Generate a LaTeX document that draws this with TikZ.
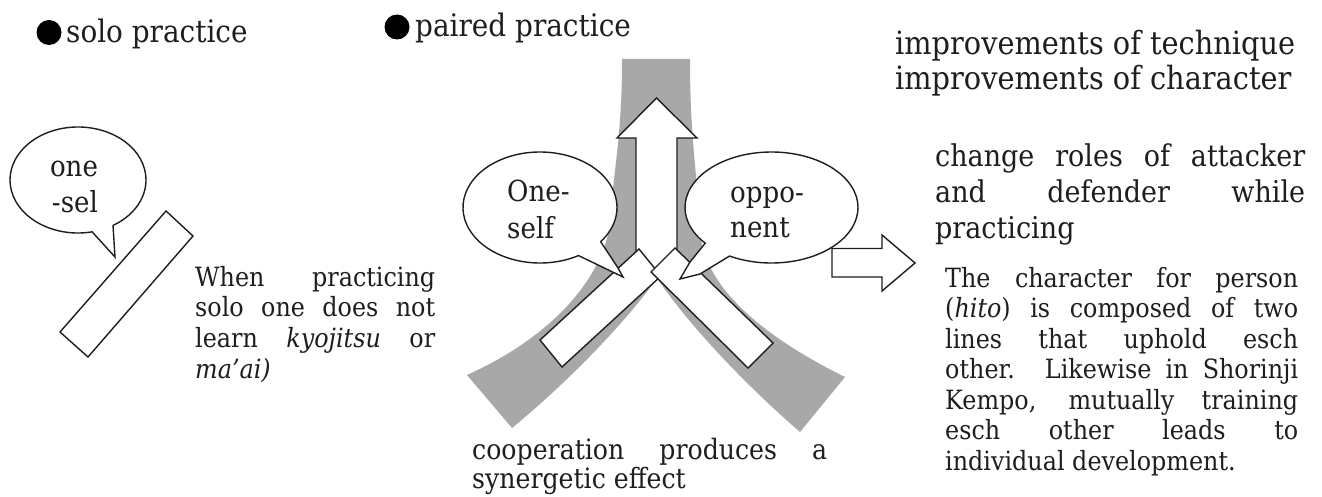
\documentclass[tikz,border=0pt]{standalone}
\usepackage{fontspec}
\setmainfont{DejaVu Serif}[FakeStretch=0.9]
\definecolor{bandgray}{RGB}{168,168,168}
\definecolor{inkc}{RGB}{30,30,30}
\newcommand\fHead{\fontsize{31}{34}\selectfont}
\newcommand\fImp{\fontsize{32}{34}\selectfont}
\newcommand\fMid{\fontsize{30}{34}\selectfont}
\newcommand\fCoop{\fontsize{28}{30}\selectfont}
\newcommand\fBub{\fontsize{29}{34}\selectfont}
\newcommand\fBody{\fontsize{26.5}{30}\selectfont}
\newcommand\jl[2]{\makebox[#1][s]{#2}}
\begin{document}
\begin{tikzpicture}[x=1pt,y=1pt,yscale=-1,
  outline/.style={draw=inkc, line width=1.4pt, fill=white, line join=miter},
  txt/.style={anchor=base west, inner sep=0pt, text=inkc},
  ctxt/.style={anchor=base, inner sep=0pt, text=inkc},
  bullet/.style={circle, fill=black, inner sep=0pt, minimum size=25pt}]
\useasboundingbox (0,0) rectangle (1322,497);
\fill[white] (0,0) rectangle (1322,497);

% ---------- gray band
\fill[bandgray] (622,59) -- (690,59)
  .. controls (690,140) and (697,170) .. (700,230)
  .. controls (703,290) and (770,340) .. (845,377) -- (800,432)
  .. controls (740,380) and (685,320) .. (657,278)
  .. controls (635,310) and (580,372) .. (512,428) -- (467,375)
  .. controls (545,340) and (600,285) .. (610,225)
  .. controls (613,170) and (622,140) .. (622,59) -- cycle;

% ---------- up arrow
\draw[outline] (636,272) -- (636,138) -- (617,138) -- (656.5,98) -- (697,138) -- (677,138) -- (677,272) -- cycle;

% ---------- two bars
\draw[outline] (540,340) -- (562,367) -- (661,276) -- (639,249) -- cycle;
\draw[outline] (651,272) -- (675,248) -- (773,343) -- (748,368) -- cycle;

% ---------- bubbles (middle)
\draw[outline] (540,207.5) ++(60:77 and 55.5) arc[start angle=60, end angle=398, x radius=77pt, y radius=55.5pt] -- (618,268) -- (623,277) -- cycle;
\draw[outline] (771.5,207.5) ++(140:86.5 and 55.5) arc[start angle=140, end angle=479, x radius=86.5pt, y radius=55.5pt] -- (700,274) -- (680,279) -- (690,262) -- cycle;

% ---------- right arrow
\draw[outline] (832,248.5) -- (882,248.5) -- (882,235) -- (915,263) -- (882,291) -- (882,277) -- (832,277) -- cycle;

% ---------- solo part
\draw[outline] (166,211) -- (193,236) -- (88,357) -- (60,332) -- cycle;
\draw[outline] (78,180) ++(78:68 and 53) arc[start angle=78, end angle=419, x radius=68pt, y radius=53pt] -- (115,257) -- cycle;

% ---------- headings
\node[bullet] (b1) at (49,32.5) {};
\node[txt, font=\fHead] (solo) at (66,43) {solo practice};
\node[bullet] (b2) at (397,27) {};
\node[txt, font=\fHead] (paired) at (415,37) {paired practice};
\node[txt, font=\fImp] (imp1) at (895,55) {improvements of technique};
\node[txt, font=\fImp] (imp2) at (895,89.5) {improvements of character};

% ---------- bubble texts
\node[ctxt, font=\fBub] (one1) at (74,177) {one};
\node[ctxt, font=\fBub] (one2) at (75,213) {-sel};
\node[txt, font=\fBub] (os1) at (507,201.5) {One-};
\node[txt, font=\fBub] (os2) at (507,238) {self};
\node[txt, font=\fBub] (op1) at (730,203) {oppo-};
\node[txt, font=\fBub] (op2) at (730,237) {nent};

% ---------- solo text
\node[txt, font=\fBody] (w1) at (195,286.5) {\jl{240pt}{When practicing}};
\node[txt, font=\fBody] (w2) at (195,316.5) {\jl{240pt}{solo one does not}};
\node[txt, font=\fBody] (w3) at (195,347) {\jl{240pt}{learn \textit{kyojitsu} or}};
\node[txt, font=\fBody] (w4) at (195,378) {\textit{ma'ai)}};

% ---------- cooperation text
\node[txt, font=\fCoop] (c1) at (472,459) {\jl{355pt}{cooperation produces a}};
\node[txt, font=\fCoop] (c2) at (472,488.5) {synergetic effect};

% ---------- change roles text
\node[txt, font=\fMid] (r1) at (935,167) {\jl{370pt}{change roles of attacker}};
\node[txt, font=\fMid] (r2) at (935,203) {\jl{370pt}{and defender while}};
\node[txt, font=\fMid] (r3) at (935,238) {practicing};

% ---------- paragraph
\node[txt, font=\fBody] (p1) at (945,287.3) {\jl{353pt}{The character for person}};
\node[txt, font=\fBody] (p2) at (945,317.5) {\jl{353pt}{(\textit{hito}) is composed of two}};
\node[txt, font=\fBody] (p3) at (945,348) {\jl{353pt}{lines that uphold esch}};
\node[txt, font=\fBody] (p4) at (945,378.5) {\jl{353pt}{other. Likewise in Shorinji}};
\node[txt, font=\fBody] (p5) at (945,409) {\jl{353pt}{Kempo, mutually training}};
\node[txt, font=\fBody] (p6) at (945,439.5) {\jl{353pt}{esch other leads to}};
\node[txt, font=\fBody] (p7) at (945,470.5) {individual development.};
\end{tikzpicture}
\end{document}
